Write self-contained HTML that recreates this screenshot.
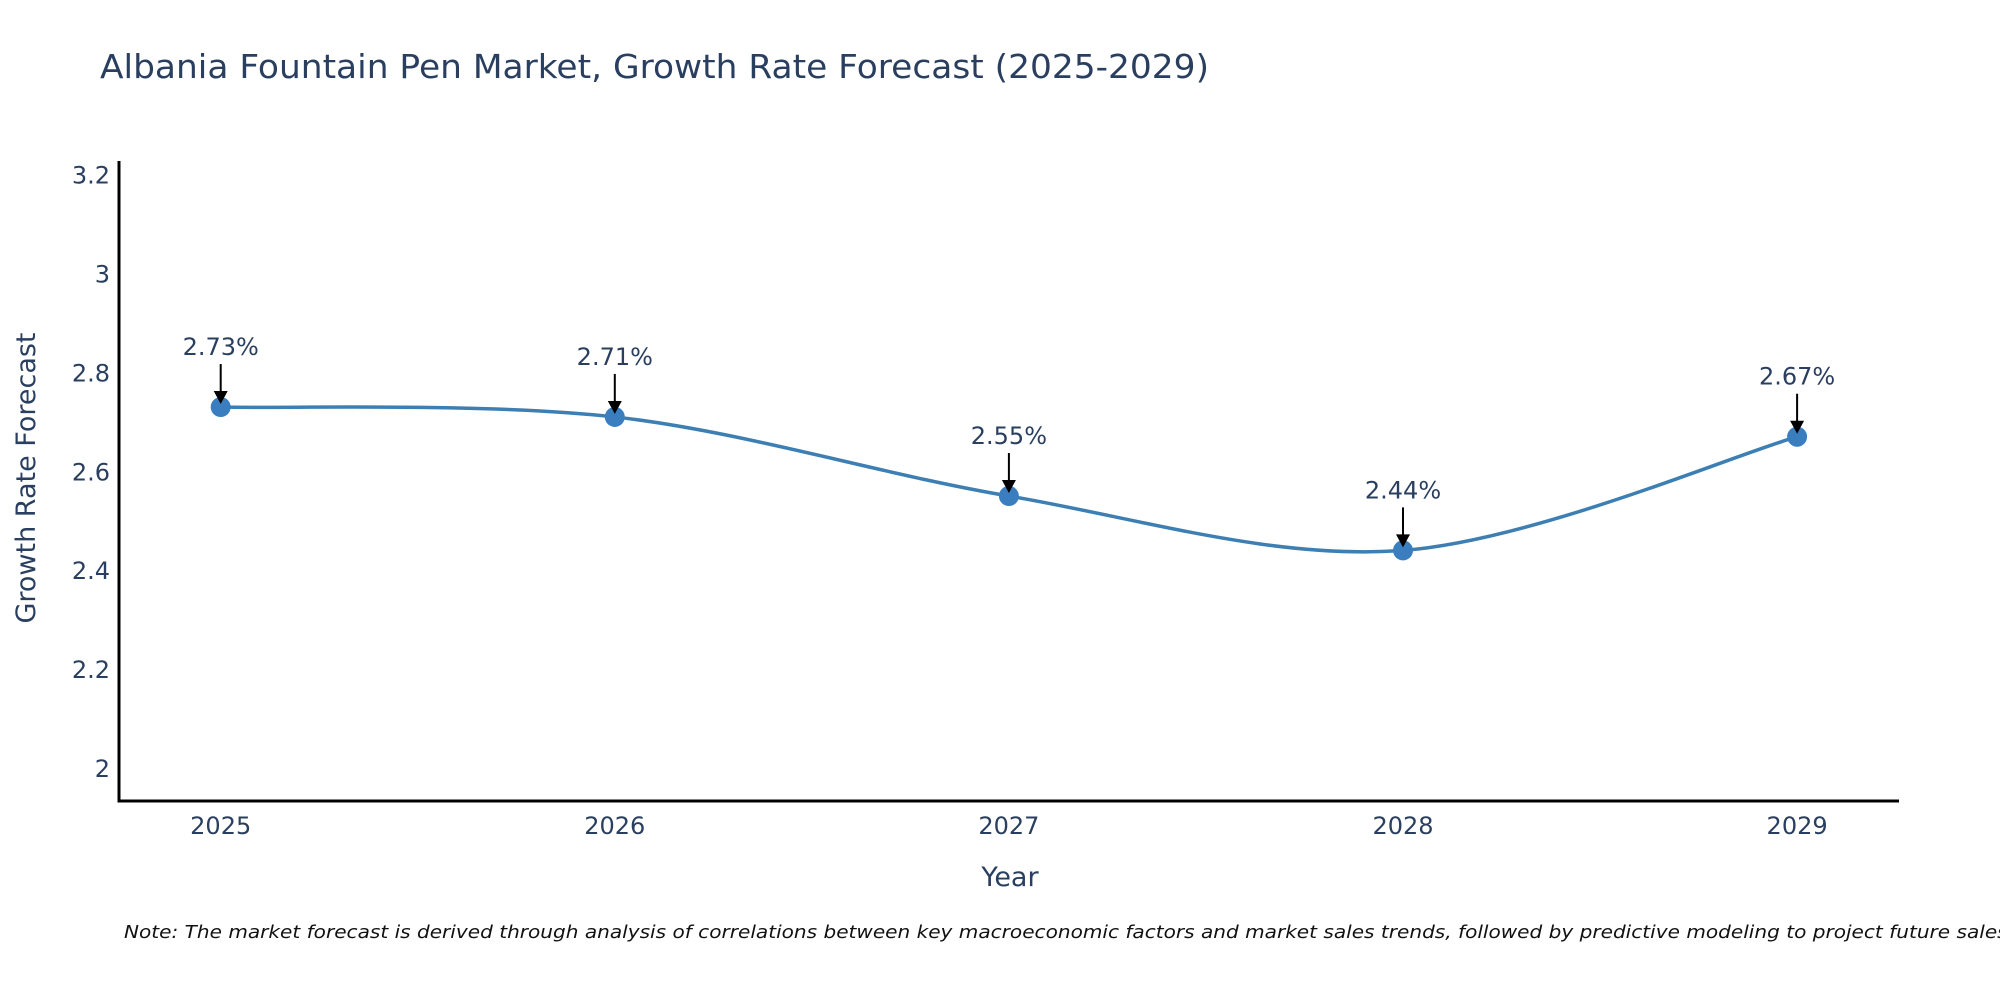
<!DOCTYPE html>
<html><head><meta charset="utf-8">
<style>
html,body{margin:0;padding:0;background:#fff;width:2000px;height:1000px;overflow:hidden}
svg text{font-family:"DejaVu Sans","Liberation Sans",sans-serif;fill:#2a3f5f}
</style></head>
<body>
<svg id="chart" width="2000" height="1000" xmlns="http://www.w3.org/2000/svg">
<text x="100" y="78" font-size="33" textLength="1109" lengthAdjust="spacingAndGlyphs">Albania Fountain Pen Market, Growth Rate Forecast (2025-2029)</text>
<g id="yticks"></g>
<g id="xticks"></g>
<line x1="119" y1="161" x2="119" y2="802" stroke="#000" stroke-width="3"/>
<line x1="117.5" y1="801" x2="1899" y2="801" stroke="#000" stroke-width="3"/>
<text transform="translate(35,478) rotate(-90)" text-anchor="middle" font-size="27">Growth Rate Forecast</text>
<text x="1010" y="886" text-anchor="middle" font-size="27">Year</text>
<g id="series"></g>
<g id="annots"></g>
<text x="124" y="938" font-size="18" font-style="italic" textLength="1890" lengthAdjust="spacingAndGlyphs" style="fill:#111">Note: The market forecast is derived through analysis of correlations between key macroeconomic factors and market sales trends, followed by predictive modeling to project future sales.</text>
</svg>
<script>
const years = [2025, 2026, 2027, 2028, 2029];
const values = [2.73, 2.71, 2.55, 2.44, 2.67];
const valueLabels = ["2.73%", "2.71%", "2.55%", "2.44%", "2.67%"];
const yTicks = [2, 2.2, 2.4, 2.6, 2.8, 3, 3.2];
const yTickLabels = ["2", "2.2", "2.4", "2.6", "2.8", "3", "3.2"];

const NS = "http://www.w3.org/2000/svg";
function xs(yr){ return 220.7 + (yr - 2025) * 394.1; }
function ys(v){ return 767.9 - (v - 2) * 494.3; }
function mk(tag, attrs, parent){ const e = document.createElementNS(NS, tag); for (const k in attrs) e.setAttribute(k, attrs[k]); parent.appendChild(e); return e; }

const yg = document.getElementById('yticks');
yTicks.forEach((t, i) => {
  const el = mk('text', {x: 110, y: ys(t) + 9, 'text-anchor': 'end', 'font-size': 24}, yg);
  
  
  el.textContent = yTickLabels[i];
});
const xg = document.getElementById('xticks');
years.forEach(yr => {
  const el = mk('text', {x: xs(yr), y: 834, 'text-anchor': 'middle', 'font-size': 24}, xg);
  
  
  el.textContent = String(yr);
});

const pts = years.map((yr, i) => [xs(yr), ys(values[i])]);
let d = `M${pts[0][0]},${pts[0][1]}`;
const s = 0.33;
for (let i = 0; i < pts.length - 1; i++) {
  const p0 = pts[Math.max(i - 1, 0)], p1 = pts[i], p2 = pts[i + 1], p3 = pts[Math.min(i + 2, pts.length - 1)];
  const c1 = [p1[0] + (p2[0] - p0[0]) * s / 2, p1[1] + (p2[1] - p0[1]) * s / 2];
  const c2 = [p2[0] - (p3[0] - p1[0]) * s / 2, p2[1] - (p3[1] - p1[1]) * s / 2];
  d += ` C${c1[0]},${c1[1]} ${c2[0]},${c2[1]} ${p2[0]},${p2[1]}`;
}
const sg = document.getElementById('series');
const line = mk('path', {d: d, fill: 'none', stroke: '#3d7fb3', 'stroke-width': 3.5}, sg);


pts.forEach(p => {
  const c = mk('circle', {cx: p[0], cy: p[1], r: 10, fill: '#3a7ebf'}, sg);
  
  
});

const ag = document.getElementById('annots');
pts.forEach((p, i) => {
  const x = p[0], y = p[1];
  const ln = mk('line', {x1: x, y1: y - 43, x2: x, y2: y - 14, stroke: '#000', 'stroke-width': 2}, ag);
  
  
  const hd = mk('polygon', {points: `${x-7},${y-16} ${x+7},${y-16} ${x},${y-3}`, fill: '#000'}, ag);
  
  
  const t = mk('text', {x: x, y: y - 52, 'text-anchor': 'middle', 'font-size': 24}, ag);
  
  
  t.textContent = valueLabels[i];
});
</script>
</body></html>
